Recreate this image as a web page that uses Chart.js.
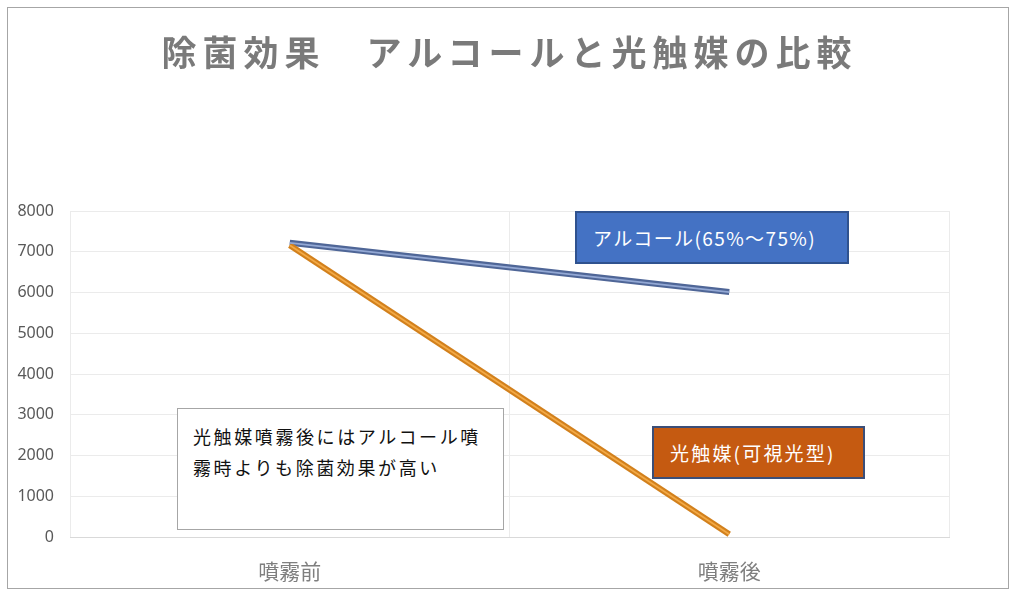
<!DOCTYPE html>
<html>
<head>
<meta charset="utf-8">
<script src="https://cdn.jsdelivr.net/npm/chart.js@4"></script>
<style>
  html, body { margin: 0; padding: 0; background: #fff; }
  #wrap { position: relative; width: 1019px; height: 592px; font-family: "Noto Sans CJK JP", "Noto Sans", sans-serif; }
  #frame { position: absolute; left: 7px; top: 7px; width: 1000px; height: 580px; border: 1px solid #A6A6A6; pointer-events: none; }
  #title { position: absolute; left: 0; width: 1019px; top: 26px; text-align: center; font-size: 35px; font-weight: bold; color: #7A7A7A; letter-spacing: 6px; line-height: 50px; }
  .box { position: absolute; box-sizing: border-box; font-size: 19px; white-space: nowrap; }
  #boxAlc { left: 575px; top: 211px; width: 274px; height: 53px; background: #4472C4; border: 2px solid #2F528F; color: #fff; padding: 11px 0 0 16px; letter-spacing: 1.4px; }
  #boxCat { left: 652px; top: 426px; width: 213px; height: 53px; background: #C55A11; border: 2px solid #3B4E78; color: #fff; padding: 11px 0 0 16px; letter-spacing: 2.2px; }
  #note { left: 177px; top: 408px; width: 327px; height: 122px; background: #fff; border: 1px solid #A6A6A6; color: #111; font-size: 18px; line-height: 31px; padding: 12px 0 0 15px; letter-spacing: 2.6px; }
</style>
</head>
<body>
<div id="wrap">
  <canvas id="chart" width="1019" height="592"></canvas>
  <div id="title">除菌効果　アルコールと光触媒の比較</div>
  <div class="box" id="boxAlc">アルコール(65%～75%)</div>
  <div class="box" id="boxCat">光触媒(可視光型)</div>
  <div class="box" id="note">光触媒噴霧後にはアルコール噴<br>霧時よりも除菌効果が高い</div>
  <div id="frame"></div>
</div>
<script>
// data
const categories = ['噴霧前', '噴霧後'];
const alcoholValues = [7220, 6010];
const photocatValues = [7160, 70];
const yTicks = [0, 1000, 2000, 3000, 4000, 5000, 6000, 7000, 8000];

// each series is drawn twice: a thick darker line and a thin light core
function tube(label, data, edge, core) {
    return [
        { label: label, data: data, borderColor: edge, borderWidth: 6, pointRadius: 0, tension: 0, order: 2 },
        { label: label + ' core', data: data, borderColor: core, borderWidth: 1.8, pointRadius: 0, tension: 0, order: 1 }
    ];
}

const ctx = document.getElementById('chart').getContext('2d');
const chart = new Chart(ctx, {
    type: 'line',
    data: {
        labels: categories,
        datasets: [
            ...tube('光触媒(可視光型)', photocatValues, '#D2801C', '#F3A945'),
            ...tube('アルコール(65%～75%)', alcoholValues, '#4F6697', '#93A8D4')
        ]
    },
    options: {
        responsive: false,
        animation: false,
        layout: { padding: { top: 211, left: 0, right: 70, bottom: 0 } },
        plugins: {
            legend: { display: false },
            tooltip: { enabled: false }
        },
        scales: {
            x: {
                offset: true,
                grid: { color: '#EBEBEB', offset: true, drawTicks: false },
                border: { color: '#D9D9D9' },
                ticks: { color: '#7F7F7F', padding: 21, font: { size: 21, family: '"Noto Sans CJK JP", sans-serif' } },
                afterFit: function (s) { s.height = 55; }
            },
            y: {
                min: 0,
                max: 8000,
                afterBuildTicks: function (s) { s.ticks = yTicks.map(v => ({ value: v })); },
                grid: { color: '#EBEBEB', drawTicks: false },
                border: { display: false },
                ticks: {
                    color: '#595959',
                    padding: 16,
                    font: { size: 16, family: '"Noto Sans", sans-serif' },
                    callback: function (v) { return String(v); }
                },
                afterFit: function (s) { s.width = 70; }
            }
        }
    }
});
</script>
</body>
</html>
